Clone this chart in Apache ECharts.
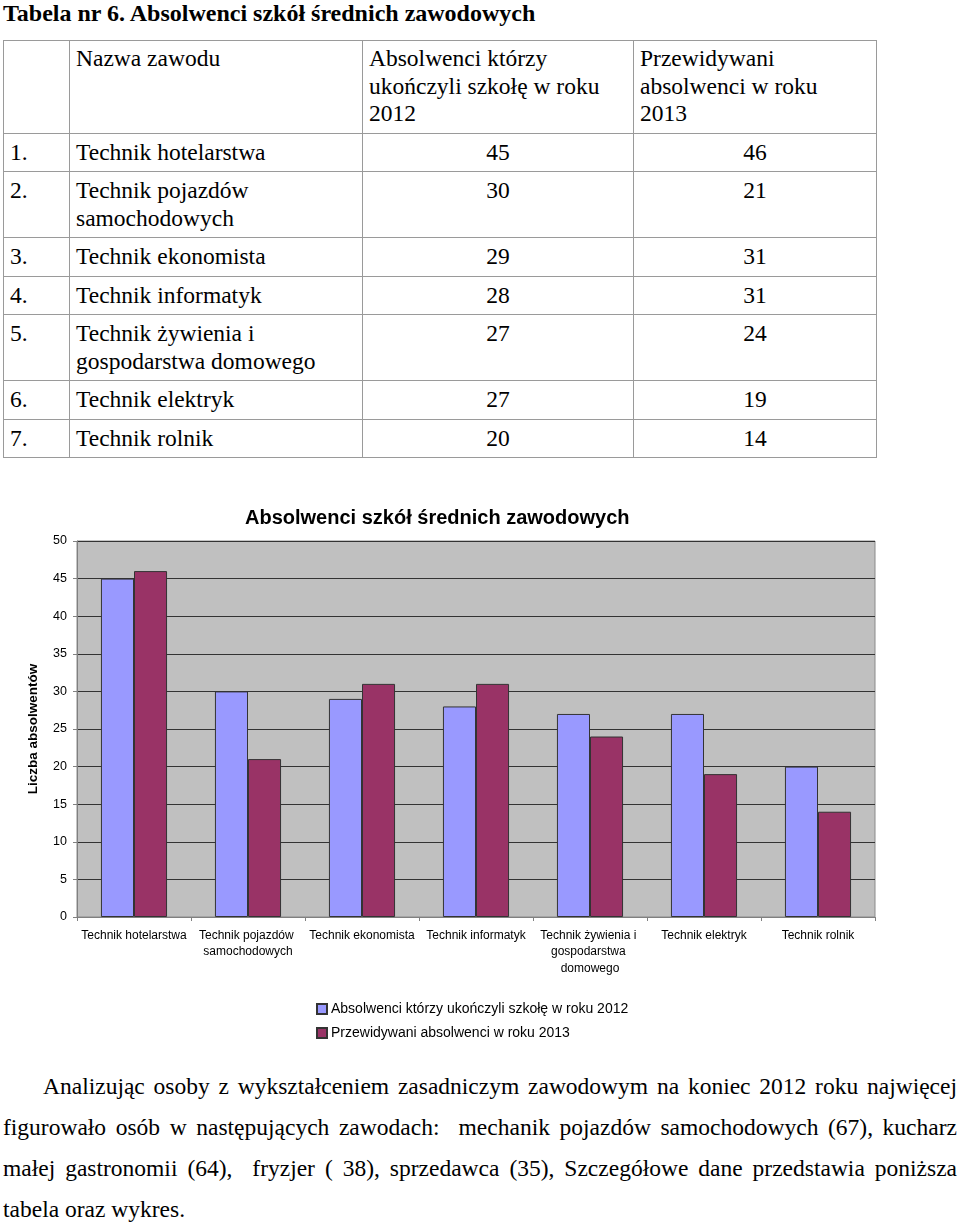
<!DOCTYPE html>
<html>
<head>
<meta charset="utf-8">
<script src="https://cdn.jsdelivr.net/npm/echarts@6/dist/echarts.min.js"></script>
<style>
  html, body { margin: 0; padding: 0; background: #fff; }
  body { width: 960px; height: 1223px; position: relative; overflow: hidden;
         font-family: "Liberation Serif", "Times New Roman", serif; color: #000; }
  #title { position: absolute; left: 3px; top: -1px; font-size: 24px; font-weight: bold; line-height: 28px; white-space: nowrap; }
  #tbl { position: absolute; left: 3px; top: 40px; border-collapse: collapse; table-layout: fixed; width: 873px; font-size: 23.5px; }
  #tbl td { border: 1px solid #9a9a9a; vertical-align: top; padding: 5px 6px 5px 6px; line-height: 27.5px; }
  #tbl td.num { text-align: center; }
  #tbl tr.hdr td { height: 79px; padding-top: 4px; }
  #chart { position: absolute; left: 0; top: 470px; width: 960px; height: 590px; }
  #para { position: absolute; left: 3px; top: 1066px; width: 954px; font-size: 23.5px; line-height: 41px; }
  #para div { text-align: justify; text-align-last: justify; white-space: nowrap; }
  #para div.last { text-align-last: left; }
</style>
</head>
<body>
<div id="title">Tabela nr 6. Absolwenci szkół średnich zawodowych</div>
<table id="tbl">
  <colgroup><col style="width:66px"><col style="width:293px"><col style="width:271px"><col style="width:243px"></colgroup>
  <tbody id="tbody"></tbody>
</table>
<div id="chart"></div>
<div id="para">
  <div style="padding-left:40px">Analizując osoby z wykształceniem zasadniczym zawodowym na koniec 2012 roku najwięcej</div>
  <div>figurowało osób w następujących zawodach:&nbsp; mechanik pojazdów samochodowych (67), kucharz</div>
  <div>małej gastronomii (64),&nbsp; fryzjer ( 38), sprzedawca (35), Szczegółowe dane przedstawia poniższa</div>
  <div class="last">tabela oraz wykres.</div>
</div>
<script>
var categories = ["Technik hotelarstwa", "Technik pojazdów samochodowych", "Technik ekonomista", "Technik informatyk", "Technik żywienia i gospodarstwa domowego", "Technik elektryk", "Technik rolnik"];
var values2012 = [45, 30, 29, 28, 27, 27, 20];
var values2013 = [46, 21, 31, 31, 24, 19, 14];
var seriesNames = ["Absolwenci którzy ukończyli szkołę w roku 2012", "Przewidywani absolwenci w roku 2013"];
var headerCells = ["", "Nazwa zawodu", "Absolwenci którzy<br>ukończyli szkołę w roku<br>2012", "Przewidywani<br>absolwenci w roku<br>2013"];
var yTicks = { min: 0, max: 50, interval: 5 };

// build table
var tb = document.getElementById('tbody');
var html = '<tr class="hdr">' + headerCells.map(function (h) { return '<td>' + h + '</td>'; }).join('') + '</tr>';
for (var i = 0; i < categories.length; i++) {
  html += '<tr><td>' + (i + 1) + '.</td><td>' + categories[i] + '</td><td class="num">' + values2012[i] + '</td><td class="num">' + values2013[i] + '</td></tr>';
}
tb.innerHTML = html;

var chart = echarts.init(document.getElementById('chart'), null, { renderer: 'canvas' });
chart.setOption({
  animation: false,
  title: {
    text: 'Absolwenci szkół średnich zawodowych',
    left: 240, top: 33,
    textStyle: { fontFamily: 'Liberation Sans, Arial, sans-serif', fontSize: 20, fontWeight: 'bold', color: '#000' }
  },
  legend: {
    orient: 'vertical', left: 311, top: 527,
    itemWidth: 10, itemHeight: 10, itemGap: 10, icon: 'rect',
    textStyle: { fontFamily: 'Liberation Sans, Arial, sans-serif', fontSize: 14, color: '#000', padding: [0, 0, 0, -1] },
    data: seriesNames
  },
  grid: {
    left: 77, top: 71, width: 798, height: 376,
    show: true, backgroundColor: '#c0c0c0', borderColor: '#8a8a8a', borderWidth: 1
  },
  xAxis: {
    type: 'category', data: categories,
    axisLine: { lineStyle: { color: '#808080', width: 1 } },
    axisTick: { show: true, length: 4, lineStyle: { color: '#808080' } },
    axisLabel: {
      interval: 0, margin: 10, width: 110, overflow: 'break', lineHeight: 16.5,
      fontFamily: 'Liberation Sans, Arial, sans-serif', fontSize: 12, color: '#000'
    }
  },
  yAxis: {
    type: 'value', min: yTicks.min, max: yTicks.max, interval: yTicks.interval,
    name: 'Liczba absolwentów', nameLocation: 'middle', nameGap: 37, nameRotate: 90,
    nameTextStyle: { fontFamily: 'Liberation Sans, Arial, sans-serif', fontSize: 13.5, fontWeight: 'bold', color: '#000' },
    axisLine: { show: true, lineStyle: { color: '#808080', width: 1 } },
    axisTick: { show: true, length: 4, lineStyle: { color: '#808080' } },
    axisLabel: { margin: 10, fontFamily: 'Liberation Sans, Arial, sans-serif', fontSize: 12.5, color: '#000' },
    splitLine: { show: true, lineStyle: { color: '#333333', width: 1.2 } }
  },
  series: [
    {
      name: seriesNames[0], type: 'bar', data: values2012,
      barGap: '0%', barCategoryGap: '42%',
      itemStyle: { color: '#9999ff', borderColor: '#333333', borderWidth: 1 }
    },
    {
      name: seriesNames[1], type: 'bar', data: values2013,
      barGap: '0%', barCategoryGap: '42%',
      itemStyle: { color: '#993366', borderColor: '#333333', borderWidth: 1 }
    }
  ]
});
</script>
</body>
</html>
